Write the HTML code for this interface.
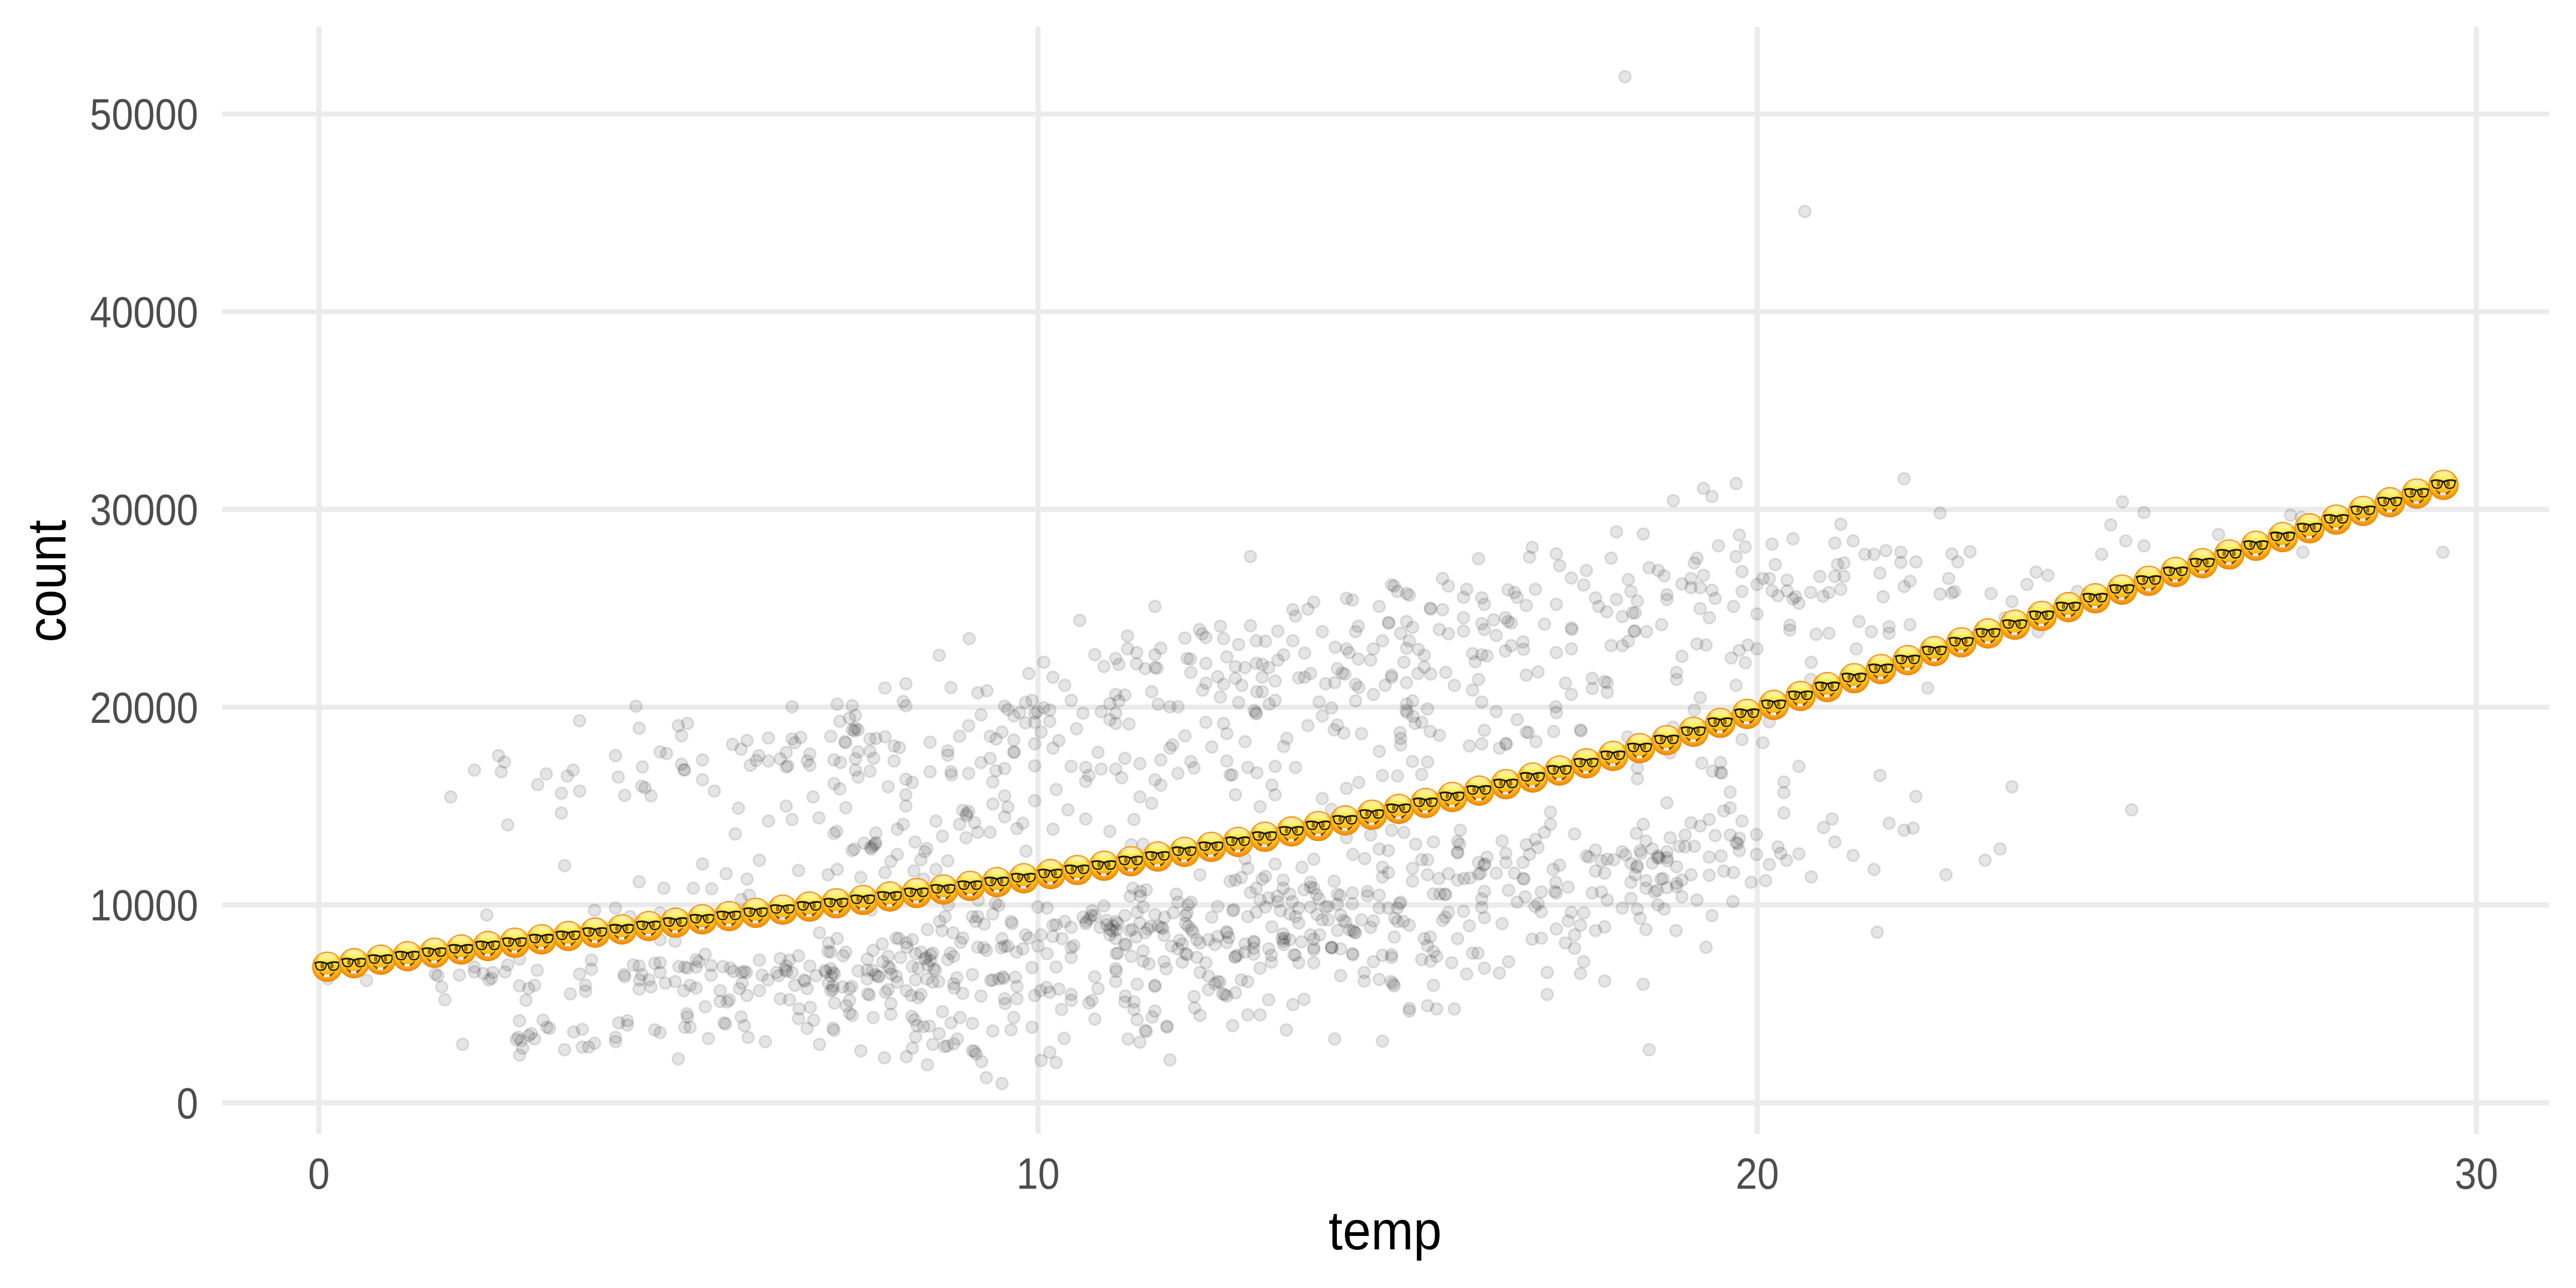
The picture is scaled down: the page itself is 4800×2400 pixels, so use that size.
<!DOCTYPE html>
<html><head><meta charset="utf-8"><title>count vs temp</title>
<style>
html,body{margin:0;padding:0;background:#fff;}
body{width:4800px;height:2400px;overflow:hidden;}
svg{display:block;}
text{font-family:"Liberation Sans",sans-serif;}
</style></head><body>
<svg width="4800" height="2400" viewBox="0 0 4800 2400">
<defs>
<linearGradient id="fg" x1="0" y1="0" x2="0" y2="1">
<stop offset="0" stop-color="#fff07a"/><stop offset="0.2" stop-color="#fff060"/><stop offset="0.4" stop-color="#ffe438"/><stop offset="0.6" stop-color="#ffcb20"/><stop offset="0.82" stop-color="#fbaa18"/><stop offset="1" stop-color="#f4900e"/>
</linearGradient>
<radialGradient id="fr" cx="0.5" cy="0.5" r="0.5">
<stop offset="0" stop-color="#ee8a00" stop-opacity="0"/><stop offset="0.7" stop-color="#ee8a00" stop-opacity="0"/><stop offset="0.9" stop-color="#f08c05" stop-opacity="0.5"/><stop offset="1" stop-color="#e47c00" stop-opacity="1"/>
</radialGradient>
<linearGradient id="hl" x1="0" y1="0" x2="0" y2="1">
<stop offset="0" stop-color="#fffbe0" stop-opacity="0.75"/><stop offset="1" stop-color="#fff9b0" stop-opacity="0"/>
</linearGradient>
<linearGradient id="tg" x1="0" y1="0" x2="0" y2="1">
<stop offset="0" stop-color="#ffffff"/><stop offset="0.55" stop-color="#f2f2f2"/><stop offset="1" stop-color="#bdbdbd"/>
</linearGradient>
<symbol id="e" viewBox="0 0 100 100" overflow="visible">
<circle cx="50" cy="50" r="50" fill="url(#fg)"/>
<circle cx="50" cy="50" r="50" fill="url(#fr)"/>
<ellipse cx="50" cy="19" rx="31" ry="14" fill="url(#hl)"/>
<ellipse cx="33.4" cy="46.6" rx="4.7" ry="8.3" fill="#b36c00" stroke="#8c4e00" stroke-width="1.8"/>
<ellipse cx="65.2" cy="46.600" rx="4.7" ry="8.3" fill="#b36c00" stroke="#8c4e00" stroke-width="1.8"/>
<g fill="none" stroke="#17171f" stroke-linecap="round" stroke-linejoin="round">
<path d="M11.2 38.6 C11.8 46.6,13.5 53.6,17 57.6 C21 62.1,34 63.1,39.5 58.6 C44 54.6,46 46.6,47.2 41.1" stroke-width="4.4"/>
<path d="M88.4 38.6 C87.8 46.6,86.1 53.6,82.6 57.6 C78.6 62.1,65.6 63.1,60.1 58.6 C55.6 54.6,53.6 46.6,52.4 41.1" stroke-width="4.4"/>
<path d="M9.8 37.6 C20 33.6,34 33.2,49.8 39.9 C65.6 33.2,79.6 33.6,89.8 37.6" stroke-width="5.8"/>
</g>
<path d="M25.2 67 C32 79,42 83.200,49.5 83.2 C57 83.2,67 79,73.8 67 C66 75,57 77.6,49.5 77.6 C42 77.6,33 75,25.200 67Z" fill="#7a3e00" stroke="#7a3e00" stroke-width="1.8" stroke-linejoin="round"/>
<path d="M39.2 75.8 L57.8 75.8 L57.8 81.5 C57.8 86.8,50.6 87,48.5 83.8 C46.4 87,39.2 86.8,39.2 81.5Z" fill="url(#tg)"/>
<path d="M48.5 76.5 L48.5 84" stroke="#c4c4c4" stroke-width="0.9" fill="none"/>
</symbol>
</defs>
<rect width="4800" height="2400" fill="#ffffff"/>
<g stroke="#ebebeb" stroke-width="9.4" fill="none">
<path d="M414 2054.7H4750"/><path d="M414 1686.3H4750"/><path d="M414 1317.8H4750"/><path d="M414 949.3H4750"/><path d="M414 580.9H4750"/><path d="M414 212.4H4750"/><path d="M594.2 50V2113"/><path d="M1934.3 50V2113"/><path d="M3274.4 50V2113"/><path d="M4614.5 50V2113"/>
</g>
<g fill="#000" fill-opacity="0.1" stroke="#000" stroke-opacity="0.1" stroke-width="3.3">
<circle cx="611" cy="1824" r="11"/><circle cx="683" cy="1827" r="11"/><circle cx="907" cy="1705" r="11"/><circle cx="1108" cy="1696" r="11"/><circle cx="1147" cy="1692" r="11"/><circle cx="1174" cy="1708" r="11"/><circle cx="1230" cy="1701" r="11"/><circle cx="1237" cy="1655" r="11"/>
<circle cx="1292" cy="1655" r="11"/><circle cx="1326" cy="1656" r="11"/><circle cx="1381" cy="1676" r="11"/><circle cx="1396" cy="1668" r="11"/><circle cx="1230" cy="1751" r="11"/><circle cx="1258" cy="1754" r="11"/><circle cx="1314" cy="1778" r="11"/><circle cx="1297" cy="1788" r="11"/>
<circle cx="1302" cy="1792" r="11"/><circle cx="1102" cy="1789" r="11"/><circle cx="1102" cy="1806" r="11"/><circle cx="968" cy="1787" r="11"/><circle cx="946" cy="1798" r="11"/><circle cx="941" cy="1811" r="11"/><circle cx="884" cy="1802" r="11"/><circle cx="884" cy="1811" r="11"/>
<circle cx="901" cy="1814" r="11"/><circle cx="918" cy="1812" r="11"/><circle cx="911" cy="1826" r="11"/><circle cx="916" cy="1823" r="11"/><circle cx="811" cy="1815" r="11"/><circle cx="816" cy="1818" r="11"/><circle cx="856" cy="1817" r="11"/><circle cx="823" cy="1839" r="11"/>
<circle cx="829" cy="1863" r="11"/><circle cx="1001" cy="1808" r="11"/><circle cx="1080" cy="1815" r="11"/><circle cx="968" cy="1837" r="11"/><circle cx="985" cy="1842" r="11"/><circle cx="996" cy="1836" r="11"/><circle cx="980" cy="1864" r="11"/><circle cx="1091" cy="1836" r="11"/>
<circle cx="1091" cy="1847" r="11"/><circle cx="1063" cy="1852" r="11"/><circle cx="1180" cy="1798" r="11"/><circle cx="1191" cy="1800" r="11"/><circle cx="1220" cy="1795" r="11"/><circle cx="1230" cy="1794" r="11"/><circle cx="1163" cy="1816" r="11"/><circle cx="1164" cy="1820" r="11"/>
<circle cx="1192" cy="1826" r="11"/><circle cx="1196" cy="1816" r="11"/><circle cx="1209" cy="1826" r="11"/><circle cx="1230" cy="1812" r="11"/><circle cx="1240" cy="1832" r="11"/><circle cx="1258" cy="1829" r="11"/><circle cx="1191" cy="1843" r="11"/><circle cx="1213" cy="1839" r="11"/>
<circle cx="1265" cy="1801" r="11"/><circle cx="1276" cy="1802" r="11"/><circle cx="1281" cy="1804" r="11"/><circle cx="1297" cy="1802" r="11"/><circle cx="1325" cy="1799" r="11"/><circle cx="1325" cy="1817" r="11"/><circle cx="1347" cy="1801" r="11"/><circle cx="1361" cy="1804" r="11"/>
<circle cx="1367" cy="1810" r="11"/><circle cx="1382" cy="1812" r="11"/><circle cx="1387" cy="1810" r="11"/><circle cx="1391" cy="1812" r="11"/><circle cx="1286" cy="1836" r="11"/><circle cx="1297" cy="1841" r="11"/><circle cx="1274" cy="1846" r="11"/><circle cx="1342" cy="1846" r="11"/>
<circle cx="1378" cy="1842" r="11"/><circle cx="1383" cy="1832" r="11"/><circle cx="1392" cy="1855" r="11"/><circle cx="1342" cy="1866" r="11"/><circle cx="1355" cy="1867" r="11"/><circle cx="1359" cy="1863" r="11"/><circle cx="1314" cy="1876" r="11"/><circle cx="1280" cy="1889" r="11"/>
<circle cx="1281" cy="1895" r="11"/><circle cx="1276" cy="1914" r="11"/><circle cx="1286" cy="1914" r="11"/><circle cx="1349" cy="1906" r="11"/><circle cx="1352" cy="1908" r="11"/><circle cx="1381" cy="1895" r="11"/><circle cx="1387" cy="1911" r="11"/><circle cx="1394" cy="1933" r="11"/>
<circle cx="1320" cy="1935" r="11"/><circle cx="1220" cy="1919" r="11"/><circle cx="1230" cy="1924" r="11"/><circle cx="1153" cy="1906" r="11"/><circle cx="1169" cy="1902" r="11"/><circle cx="1169" cy="1910" r="11"/><circle cx="1147" cy="1933" r="11"/><circle cx="1147" cy="1941" r="11"/>
<circle cx="1085" cy="1918" r="11"/><circle cx="1069" cy="1923" r="11"/><circle cx="1012" cy="1901" r="11"/><circle cx="1019" cy="1914" r="11"/><circle cx="1024" cy="1916" r="11"/><circle cx="968" cy="1902" r="11"/><circle cx="990" cy="1926" r="11"/><circle cx="985" cy="1930" r="11"/>
<circle cx="996" cy="1936" r="11"/><circle cx="966" cy="1933" r="11"/><circle cx="962" cy="1937" r="11"/><circle cx="971" cy="1939" r="11"/><circle cx="974" cy="1953" r="11"/><circle cx="968" cy="1966" r="11"/><circle cx="1052" cy="1956" r="11"/><circle cx="1085" cy="1951" r="11"/>
<circle cx="1097" cy="1951" r="11"/><circle cx="1108" cy="1944" r="11"/><circle cx="862" cy="1946" r="11"/><circle cx="1264" cy="1973" r="11"/><circle cx="1415" cy="1789" r="11"/><circle cx="1454" cy="1786" r="11"/><circle cx="1471" cy="1789" r="11"/><circle cx="1465" cy="1800" r="11"/>
<circle cx="1463" cy="1807" r="11"/><circle cx="1466" cy="1810" r="11"/><circle cx="1476" cy="1812" r="11"/><circle cx="1447" cy="1812" r="11"/><circle cx="1451" cy="1818" r="11"/><circle cx="1420" cy="1817" r="11"/><circle cx="1431" cy="1826" r="11"/><circle cx="1415" cy="1846" r="11"/>
<circle cx="1454" cy="1861" r="11"/><circle cx="1471" cy="1863" r="11"/><circle cx="1426" cy="1941" r="11"/><circle cx="1488" cy="1781" r="11"/><circle cx="1509" cy="1800" r="11"/><circle cx="1527" cy="1738" r="11"/><circle cx="1544" cy="1757" r="11"/><circle cx="1560" cy="1749" r="11"/>
<circle cx="1543" cy="1773" r="11"/><circle cx="1548" cy="1774" r="11"/><circle cx="1498" cy="1826" r="11"/><circle cx="1500" cy="1828" r="11"/><circle cx="1481" cy="1836" r="11"/><circle cx="1504" cy="1842" r="11"/><circle cx="1521" cy="1818" r="11"/><circle cx="1537" cy="1808" r="11"/>
<circle cx="1539" cy="1811" r="11"/><circle cx="1548" cy="1805" r="11"/><circle cx="1552" cy="1812" r="11"/><circle cx="1555" cy="1815" r="11"/><circle cx="1549" cy="1819" r="11"/><circle cx="1544" cy="1832" r="11"/><circle cx="1552" cy="1838" r="11"/><circle cx="1548" cy="1846" r="11"/>
<circle cx="1552" cy="1844" r="11"/><circle cx="1555" cy="1869" r="11"/><circle cx="1489" cy="1880" r="11"/><circle cx="1510" cy="1877" r="11"/><circle cx="1488" cy="1898" r="11"/><circle cx="1516" cy="1901" r="11"/><circle cx="1504" cy="1916" r="11"/><circle cx="1552" cy="1916" r="11"/>
<circle cx="1554" cy="1920" r="11"/><circle cx="1527" cy="1946" r="11"/><circle cx="1576" cy="1774" r="11"/><circle cx="1571" cy="1781" r="11"/><circle cx="1570" cy="1839" r="11"/><circle cx="1583" cy="1842" r="11"/><circle cx="1587" cy="1838" r="11"/><circle cx="1583" cy="1864" r="11"/>
<circle cx="1577" cy="1874" r="11"/><circle cx="1583" cy="1888" r="11"/><circle cx="1588" cy="1892" r="11"/><circle cx="1599" cy="1809" r="11"/><circle cx="1616" cy="1787" r="11"/><circle cx="1627" cy="1771" r="11"/><circle cx="1616" cy="1808" r="11"/><circle cx="1626" cy="1808" r="11"/>
<circle cx="1616" cy="1824" r="11"/><circle cx="1631" cy="1816" r="11"/><circle cx="1636" cy="1819" r="11"/><circle cx="1617" cy="1852" r="11"/><circle cx="1620" cy="1854" r="11"/><circle cx="1627" cy="1896" r="11"/><circle cx="1604" cy="1958" r="11"/><circle cx="1623" cy="1696" r="11"/>
<circle cx="1644" cy="1759" r="11"/><circle cx="1655" cy="1782" r="11"/><circle cx="1645" cy="1792" r="11"/><circle cx="1655" cy="1801" r="11"/><circle cx="1659" cy="1805" r="11"/><circle cx="1661" cy="1815" r="11"/><circle cx="1670" cy="1819" r="11"/><circle cx="1672" cy="1830" r="11"/>
<circle cx="1638" cy="1820" r="11"/><circle cx="1655" cy="1844" r="11"/><circle cx="1650" cy="1849" r="11"/><circle cx="1660" cy="1870" r="11"/><circle cx="1660" cy="1890" r="11"/><circle cx="1670" cy="1748" r="11"/><circle cx="1675" cy="1749" r="11"/><circle cx="1689" cy="1757" r="11"/>
<circle cx="1700" cy="1751" r="11"/><circle cx="1690" cy="1765" r="11"/><circle cx="1678" cy="1784" r="11"/><circle cx="1700" cy="1801" r="11"/><circle cx="1706" cy="1777" r="11"/><circle cx="1706" cy="1826" r="11"/><circle cx="1689" cy="1846" r="11"/><circle cx="1698" cy="1855" r="11"/>
<circle cx="1711" cy="1804" r="11"/><circle cx="1648" cy="1971" r="11"/><circle cx="1689" cy="1969" r="11"/><circle cx="1700" cy="1953" r="11"/><circle cx="1706" cy="1932" r="11"/><circle cx="1699" cy="1894" r="11"/><circle cx="1704" cy="1900" r="11"/><circle cx="1709" cy="1911" r="11"/>
<circle cx="1716" cy="1774" r="11"/><circle cx="1723" cy="1787" r="11"/><circle cx="1726" cy="1784" r="11"/><circle cx="1734" cy="1779" r="11"/><circle cx="1738" cy="1776" r="11"/><circle cx="1734" cy="1790" r="11"/><circle cx="1729" cy="1799" r="11"/><circle cx="1740" cy="1805" r="11"/>
<circle cx="1743" cy="1808" r="11"/><circle cx="1727" cy="1824" r="11"/><circle cx="1738" cy="1830" r="11"/><circle cx="1749" cy="1829" r="11"/><circle cx="1716" cy="1853" r="11"/><circle cx="1711" cy="1859" r="11"/><circle cx="1728" cy="1732" r="11"/><circle cx="1751" cy="1717" r="11"/>
<circle cx="1761" cy="1708" r="11"/><circle cx="1755" cy="1734" r="11"/><circle cx="1776" cy="1738" r="11"/><circle cx="1766" cy="1788" r="11"/><circle cx="1771" cy="1776" r="11"/><circle cx="1777" cy="1782" r="11"/><circle cx="1783" cy="1822" r="11"/><circle cx="1777" cy="1833" r="11"/>
<circle cx="1778" cy="1841" r="11"/><circle cx="1767" cy="1686" r="11"/><circle cx="1756" cy="1885" r="11"/><circle cx="1772" cy="1906" r="11"/><circle cx="1750" cy="1926" r="11"/><circle cx="1721" cy="1913" r="11"/><circle cx="1732" cy="1912" r="11"/><circle cx="1738" cy="1946" r="11"/>
<circle cx="1760" cy="1950" r="11"/><circle cx="1765" cy="1949" r="11"/><circle cx="1777" cy="1945" r="11"/><circle cx="1784" cy="1936" r="11"/><circle cx="1728" cy="1984" r="11"/><circle cx="1794" cy="1748" r="11"/><circle cx="1790" cy="1756" r="11"/><circle cx="1812" cy="1708" r="11"/>
<circle cx="1818" cy="1717" r="11"/><circle cx="1822" cy="1708" r="11"/><circle cx="1834" cy="1722" r="11"/><circle cx="1850" cy="1703" r="11"/><circle cx="1855" cy="1683" r="11"/><circle cx="1861" cy="1687" r="11"/><circle cx="1823" cy="1677" r="11"/><circle cx="1822" cy="1765" r="11"/>
<circle cx="1833" cy="1766" r="11"/><circle cx="1838" cy="1771" r="11"/><circle cx="1812" cy="1816" r="11"/><circle cx="1794" cy="1851" r="11"/><circle cx="1828" cy="1856" r="11"/><circle cx="1789" cy="1896" r="11"/><circle cx="1812" cy="1907" r="11"/><circle cx="1846" cy="1827" r="11"/>
<circle cx="1850" cy="1826" r="11"/><circle cx="1850" cy="1921" r="11"/><circle cx="1812" cy="1958" r="11"/><circle cx="1816" cy="1959" r="11"/><circle cx="1819" cy="1964" r="11"/><circle cx="1829" cy="1978" r="11"/><circle cx="1838" cy="2008" r="11"/><circle cx="1867" cy="1749" r="11"/>
<circle cx="1866" cy="1766" r="11"/><circle cx="1872" cy="1763" r="11"/><circle cx="1861" cy="1824" r="11"/><circle cx="1869" cy="1820" r="11"/><circle cx="1870" cy="1823" r="11"/><circle cx="1878" cy="1763" r="11"/><circle cx="1884" cy="1717" r="11"/><circle cx="1886" cy="1721" r="11"/>
<circle cx="1892" cy="1821" r="11"/><circle cx="1895" cy="1838" r="11"/><circle cx="1895" cy="1861" r="11"/><circle cx="1872" cy="1861" r="11"/><circle cx="1873" cy="1870" r="11"/><circle cx="1889" cy="1896" r="11"/><circle cx="1884" cy="1919" r="11"/><circle cx="1867" cy="2019" r="11"/>
<circle cx="1894" cy="1774" r="11"/><circle cx="1906" cy="1768" r="11"/><circle cx="1911" cy="1742" r="11"/><circle cx="1917" cy="1748" r="11"/><circle cx="1934" cy="1690" r="11"/><circle cx="1940" cy="1742" r="11"/><circle cx="1934" cy="1763" r="11"/><circle cx="1923" cy="1803" r="11"/>
<circle cx="1928" cy="1855" r="11"/><circle cx="1939" cy="1846" r="11"/><circle cx="1923" cy="1914" r="11"/><circle cx="1940" cy="1976" r="11"/><circle cx="1951" cy="1692" r="11"/><circle cx="1951" cy="1777" r="11"/><circle cx="1950" cy="1840" r="11"/><circle cx="1956" cy="1849" r="11"/>
<circle cx="1956" cy="1961" r="11"/><circle cx="1968" cy="1980" r="11"/><circle cx="1962" cy="1724" r="11"/><circle cx="1968" cy="1723" r="11"/><circle cx="1962" cy="1745" r="11"/><circle cx="1979" cy="1749" r="11"/><circle cx="1984" cy="1717" r="11"/><circle cx="1996" cy="1728" r="11"/>
<circle cx="1996" cy="1766" r="11"/><circle cx="2001" cy="1762" r="11"/><circle cx="1996" cy="1784" r="11"/><circle cx="1968" cy="1802" r="11"/><circle cx="1973" cy="1843" r="11"/><circle cx="1996" cy="1853" r="11"/><circle cx="1996" cy="1864" r="11"/><circle cx="1978" cy="1881" r="11"/>
<circle cx="1983" cy="1935" r="11"/><circle cx="2018" cy="1709" r="11"/><circle cx="2024" cy="1717" r="11"/><circle cx="2030" cy="1712" r="11"/><circle cx="2034" cy="1706" r="11"/><circle cx="2035" cy="1697" r="11"/><circle cx="2040" cy="1706" r="11"/><circle cx="2023" cy="1721" r="11"/>
<circle cx="2057" cy="1688" r="11"/><circle cx="2050" cy="1728" r="11"/><circle cx="2062" cy="1715" r="11"/><circle cx="2062" cy="1723" r="11"/><circle cx="2068" cy="1731" r="11"/><circle cx="2073" cy="1735" r="11"/><circle cx="2080" cy="1733" r="11"/><circle cx="2074" cy="1725" r="11"/>
<circle cx="2080" cy="1717" r="11"/><circle cx="2083" cy="1721" r="11"/><circle cx="2068" cy="1742" r="11"/><circle cx="2079" cy="1749" r="11"/><circle cx="2096" cy="1759" r="11"/><circle cx="2098" cy="1761" r="11"/><circle cx="2096" cy="1706" r="11"/><circle cx="2040" cy="1820" r="11"/>
<circle cx="2046" cy="1842" r="11"/><circle cx="2035" cy="1864" r="11"/><circle cx="2029" cy="1869" r="11"/><circle cx="2040" cy="1899" r="11"/><circle cx="2083" cy="1776" r="11"/><circle cx="2080" cy="1777" r="11"/><circle cx="2079" cy="1805" r="11"/><circle cx="2080" cy="1810" r="11"/>
<circle cx="2079" cy="1829" r="11"/><circle cx="2097" cy="1856" r="11"/><circle cx="2096" cy="1867" r="11"/><circle cx="2106" cy="1670" r="11"/><circle cx="2111" cy="1655" r="11"/><circle cx="2125" cy="1661" r="11"/><circle cx="2136" cy="1658" r="11"/><circle cx="2125" cy="1670" r="11"/>
<circle cx="2130" cy="1690" r="11"/><circle cx="2119" cy="1700" r="11"/><circle cx="2124" cy="1720" r="11"/><circle cx="2105" cy="1734" r="11"/><circle cx="2110" cy="1732" r="11"/><circle cx="2117" cy="1746" r="11"/><circle cx="2139" cy="1731" r="11"/><circle cx="2144" cy="1726" r="11"/>
<circle cx="2134" cy="1738" r="11"/><circle cx="2152" cy="1704" r="11"/><circle cx="2158" cy="1726" r="11"/><circle cx="2164" cy="1728" r="11"/><circle cx="2167" cy="1730" r="11"/><circle cx="2170" cy="1709" r="11"/><circle cx="2169" cy="1743" r="11"/><circle cx="2186" cy="1701" r="11"/>
<circle cx="2192" cy="1666" r="11"/><circle cx="2195" cy="1681" r="11"/><circle cx="2183" cy="1763" r="11"/><circle cx="2195" cy="1768" r="11"/><circle cx="2198" cy="1752" r="11"/><circle cx="2130" cy="1772" r="11"/><circle cx="2108" cy="1782" r="11"/><circle cx="2130" cy="1791" r="11"/>
<circle cx="2141" cy="1796" r="11"/><circle cx="2169" cy="1792" r="11"/><circle cx="2173" cy="1805" r="11"/><circle cx="2119" cy="1834" r="11"/><circle cx="2152" cy="1836" r="11"/><circle cx="2152" cy="1838" r="11"/><circle cx="2113" cy="1867" r="11"/><circle cx="2113" cy="1881" r="11"/>
<circle cx="2119" cy="1900" r="11"/><circle cx="2152" cy="1884" r="11"/><circle cx="2147" cy="1895" r="11"/><circle cx="2134" cy="1920" r="11"/><circle cx="2136" cy="1922" r="11"/><circle cx="2174" cy="1912" r="11"/><circle cx="2175" cy="1914" r="11"/><circle cx="2102" cy="1936" r="11"/>
<circle cx="2124" cy="1942" r="11"/><circle cx="2180" cy="1975" r="11"/><circle cx="2219" cy="1681" r="11"/><circle cx="2214" cy="1686" r="11"/><circle cx="2212" cy="1701" r="11"/><circle cx="2209" cy="1706" r="11"/><circle cx="2209" cy="1721" r="11"/><circle cx="2214" cy="1726" r="11"/>
<circle cx="2220" cy="1732" r="11"/><circle cx="2223" cy="1737" r="11"/><circle cx="2203" cy="1759" r="11"/><circle cx="2230" cy="1751" r="11"/><circle cx="2236" cy="1757" r="11"/><circle cx="2209" cy="1777" r="11"/><circle cx="2212" cy="1779" r="11"/><circle cx="2203" cy="1793" r="11"/>
<circle cx="2230" cy="1784" r="11"/><circle cx="2247" cy="1794" r="11"/><circle cx="2252" cy="1751" r="11"/><circle cx="2264" cy="1760" r="11"/><circle cx="2269" cy="1745" r="11"/><circle cx="2269" cy="1689" r="11"/><circle cx="2258" cy="1709" r="11"/><circle cx="2236" cy="1812" r="11"/>
<circle cx="2252" cy="1819" r="11"/><circle cx="2269" cy="1829" r="11"/><circle cx="2273" cy="1830" r="11"/><circle cx="2264" cy="1833" r="11"/><circle cx="2252" cy="1844" r="11"/><circle cx="2225" cy="1857" r="11"/><circle cx="2226" cy="1878" r="11"/><circle cx="2236" cy="1892" r="11"/>
<circle cx="2285" cy="1736" r="11"/><circle cx="2287" cy="1738" r="11"/><circle cx="2290" cy="1747" r="11"/><circle cx="2286" cy="1756" r="11"/><circle cx="2297" cy="1697" r="11"/><circle cx="2299" cy="1695" r="11"/><circle cx="2325" cy="1708" r="11"/><circle cx="2330" cy="1663" r="11"/>
<circle cx="2341" cy="1655" r="11"/><circle cx="2341" cy="1700" r="11"/><circle cx="2348" cy="1677" r="11"/><circle cx="2320" cy="1759" r="11"/><circle cx="2336" cy="1754" r="11"/><circle cx="2337" cy="1756" r="11"/><circle cx="2336" cy="1767" r="11"/><circle cx="2336" cy="1778" r="11"/>
<circle cx="2320" cy="1774" r="11"/><circle cx="2302" cy="1782" r="11"/><circle cx="2306" cy="1780" r="11"/><circle cx="2301" cy="1784" r="11"/><circle cx="2313" cy="1826" r="11"/><circle cx="2325" cy="1829" r="11"/><circle cx="2348" cy="1804" r="11"/><circle cx="2302" cy="1850" r="11"/>
<circle cx="2282" cy="1853" r="11"/><circle cx="2286" cy="1856" r="11"/><circle cx="2278" cy="1852" r="11"/><circle cx="2325" cy="1891" r="11"/><circle cx="2348" cy="1891" r="11"/><circle cx="2297" cy="1911" r="11"/><circle cx="2358" cy="1690" r="11"/><circle cx="2364" cy="1673" r="11"/>
<circle cx="2370" cy="1727" r="11"/><circle cx="2364" cy="1768" r="11"/><circle cx="2369" cy="1780" r="11"/><circle cx="2369" cy="1793" r="11"/><circle cx="2380" cy="1670" r="11"/><circle cx="2381" cy="1680" r="11"/><circle cx="2386" cy="1697" r="11"/><circle cx="2391" cy="1655" r="11"/>
<circle cx="2403" cy="1666" r="11"/><circle cx="2408" cy="1680" r="11"/><circle cx="2403" cy="1703" r="11"/><circle cx="2414" cy="1708" r="11"/><circle cx="2420" cy="1692" r="11"/><circle cx="2420" cy="1720" r="11"/><circle cx="2391" cy="1740" r="11"/><circle cx="2389" cy="1749" r="11"/>
<circle cx="2394" cy="1748" r="11"/><circle cx="2391" cy="1754" r="11"/><circle cx="2392" cy="1760" r="11"/><circle cx="2403" cy="1751" r="11"/><circle cx="2425" cy="1755" r="11"/><circle cx="2411" cy="1779" r="11"/><circle cx="2414" cy="1780" r="11"/><circle cx="2420" cy="1794" r="11"/>
<circle cx="2364" cy="1863" r="11"/><circle cx="2409" cy="1872" r="11"/><circle cx="2430" cy="1862" r="11"/><circle cx="2430" cy="1658" r="11"/><circle cx="2397" cy="1919" r="11"/><circle cx="2442" cy="1690" r="11"/><circle cx="2442" cy="1653" r="11"/><circle cx="2448" cy="1655" r="11"/>
<circle cx="2453" cy="1667" r="11"/><circle cx="2458" cy="1675" r="11"/><circle cx="2454" cy="1704" r="11"/><circle cx="2464" cy="1714" r="11"/><circle cx="2475" cy="1714" r="11"/><circle cx="2470" cy="1690" r="11"/><circle cx="2475" cy="1689" r="11"/><circle cx="2442" cy="1742" r="11"/>
<circle cx="2448" cy="1750" r="11"/><circle cx="2459" cy="1742" r="11"/><circle cx="2448" cy="1766" r="11"/><circle cx="2448" cy="1770" r="11"/><circle cx="2448" cy="1794" r="11"/><circle cx="2481" cy="1765" r="11"/><circle cx="2482" cy="1766" r="11"/><circle cx="2481" cy="1766" r="11"/>
<circle cx="2498" cy="1768" r="11"/><circle cx="2492" cy="1734" r="11"/><circle cx="2492" cy="1685" r="11"/><circle cx="2492" cy="1666" r="11"/><circle cx="2497" cy="1669" r="11"/><circle cx="2498" cy="1705" r="11"/><circle cx="2503" cy="1715" r="11"/><circle cx="2508" cy="1718" r="11"/>
<circle cx="2498" cy="1818" r="11"/><circle cx="2487" cy="1936" r="11"/><circle cx="2520" cy="1664" r="11"/><circle cx="2520" cy="1684" r="11"/><circle cx="2515" cy="1733" r="11"/><circle cx="2521" cy="1734" r="11"/><circle cx="2524" cy="1737" r="11"/><circle cx="2526" cy="1738" r="11"/>
<circle cx="2520" cy="1777" r="11"/><circle cx="2521" cy="1779" r="11"/><circle cx="2537" cy="1714" r="11"/><circle cx="2548" cy="1661" r="11"/><circle cx="2548" cy="1669" r="11"/><circle cx="2559" cy="1716" r="11"/><circle cx="2554" cy="1728" r="11"/><circle cx="2570" cy="1668" r="11"/>
<circle cx="2570" cy="1692" r="11"/><circle cx="2587" cy="1692" r="11"/><circle cx="2559" cy="1792" r="11"/><circle cx="2576" cy="1780" r="11"/><circle cx="2542" cy="1812" r="11"/><circle cx="2542" cy="1828" r="11"/><circle cx="2570" cy="1825" r="11"/><circle cx="2576" cy="1940" r="11"/>
<circle cx="2593" cy="1779" r="11"/><circle cx="2593" cy="1784" r="11"/><circle cx="2598" cy="1746" r="11"/><circle cx="2599" cy="1711" r="11"/><circle cx="2604" cy="1717" r="11"/><circle cx="2615" cy="1717" r="11"/><circle cx="2626" cy="1724" r="11"/><circle cx="2604" cy="1692" r="11"/>
<circle cx="2608" cy="1684" r="11"/><circle cx="2610" cy="1681" r="11"/><circle cx="2592" cy="1829" r="11"/><circle cx="2598" cy="1837" r="11"/><circle cx="2596" cy="1833" r="11"/><circle cx="2626" cy="1879" r="11"/><circle cx="2626" cy="1884" r="11"/><circle cx="2649" cy="1788" r="11"/>
<circle cx="2654" cy="1749" r="11"/><circle cx="2665" cy="1746" r="11"/><circle cx="2660" cy="1762" r="11"/><circle cx="2660" cy="1874" r="11"/><circle cx="2671" cy="1773" r="11"/><circle cx="2677" cy="1782" r="11"/><circle cx="2666" cy="1791" r="11"/><circle cx="2671" cy="1666" r="11"/>
<circle cx="2683" cy="1666" r="11"/><circle cx="2692" cy="1666" r="11"/><circle cx="2694" cy="1667" r="11"/><circle cx="2688" cy="1715" r="11"/><circle cx="2693" cy="1709" r="11"/><circle cx="2699" cy="1700" r="11"/><circle cx="2671" cy="1836" r="11"/><circle cx="2677" cy="1880" r="11"/>
<circle cx="2705" cy="1794" r="11"/><circle cx="2716" cy="1749" r="11"/><circle cx="2727" cy="1698" r="11"/><circle cx="2738" cy="1725" r="11"/><circle cx="2733" cy="1815" r="11"/><circle cx="2710" cy="1880" r="11"/><circle cx="2744" cy="1776" r="11"/><circle cx="2754" cy="1776" r="11"/>
<circle cx="2761" cy="1675" r="11"/><circle cx="2761" cy="1691" r="11"/><circle cx="2766" cy="1661" r="11"/><circle cx="2766" cy="1710" r="11"/><circle cx="2766" cy="1804" r="11"/><circle cx="2799" cy="1721" r="11"/><circle cx="2794" cy="1813" r="11"/><circle cx="2811" cy="1792" r="11"/>
<circle cx="2811" cy="1659" r="11"/><circle cx="2827" cy="1681" r="11"/><circle cx="2842" cy="1671" r="11"/><circle cx="2855" cy="1750" r="11"/><circle cx="2860" cy="1689" r="11"/><circle cx="2866" cy="1684" r="11"/><circle cx="2872" cy="1699" r="11"/><circle cx="2872" cy="1662" r="11"/>
<circle cx="2872" cy="1748" r="11"/><circle cx="2883" cy="1812" r="11"/><circle cx="2883" cy="1853" r="11"/><circle cx="2897" cy="1661" r="11"/><circle cx="2900" cy="1664" r="11"/><circle cx="2900" cy="1731" r="11"/><circle cx="2917" cy="1757" r="11"/><circle cx="2922" cy="1653" r="11"/>
<circle cx="2922" cy="1716" r="11"/><circle cx="2928" cy="1700" r="11"/><circle cx="2934" cy="1742" r="11"/><circle cx="2934" cy="1767" r="11"/><circle cx="2945" cy="1724" r="11"/><circle cx="2951" cy="1701" r="11"/><circle cx="2951" cy="1792" r="11"/><circle cx="2945" cy="1814" r="11"/>
<circle cx="2967" cy="1664" r="11"/><circle cx="2973" cy="1734" r="11"/><circle cx="2984" cy="1662" r="11"/><circle cx="2990" cy="1727" r="11"/><circle cx="2995" cy="1677" r="11"/><circle cx="2990" cy="1828" r="11"/><circle cx="3039" cy="1674" r="11"/><circle cx="3023" cy="1692" r="11"/>
<circle cx="3051" cy="1694" r="11"/><circle cx="3056" cy="1711" r="11"/><circle cx="3067" cy="1732" r="11"/><circle cx="3089" cy="1686" r="11"/><circle cx="3101" cy="1694" r="11"/><circle cx="3083" cy="1662" r="11"/><circle cx="3088" cy="1659" r="11"/><circle cx="3067" cy="1655" r="11"/>
<circle cx="3106" cy="1654" r="11"/><circle cx="3124" cy="1652" r="11"/><circle cx="3134" cy="1671" r="11"/><circle cx="3162" cy="1677" r="11"/><circle cx="3229" cy="1680" r="11"/><circle cx="3190" cy="1706" r="11"/><circle cx="3123" cy="1734" r="11"/><circle cx="3179" cy="1765" r="11"/>
<circle cx="3062" cy="1834" r="11"/><circle cx="3073" cy="1956" r="11"/><circle cx="3498" cy="1737" r="11"/><circle cx="840" cy="1485" r="11"/><circle cx="884" cy="1435" r="11"/><circle cx="929" cy="1408" r="11"/><circle cx="940" cy="1420" r="11"/><circle cx="934" cy="1438" r="11"/>
<circle cx="946" cy="1537" r="11"/><circle cx="1002" cy="1462" r="11"/><circle cx="1018" cy="1442" r="11"/><circle cx="1057" cy="1446" r="11"/><circle cx="1068" cy="1435" r="11"/><circle cx="1046" cy="1478" r="11"/><circle cx="1080" cy="1474" r="11"/><circle cx="1046" cy="1515" r="11"/>
<circle cx="1052" cy="1613" r="11"/><circle cx="1080" cy="1343" r="11"/><circle cx="1147" cy="1408" r="11"/><circle cx="1152" cy="1448" r="11"/><circle cx="1164" cy="1482" r="11"/><circle cx="1185" cy="1316" r="11"/><circle cx="1191" cy="1357" r="11"/><circle cx="1197" cy="1429" r="11"/>
<circle cx="1196" cy="1465" r="11"/><circle cx="1202" cy="1468" r="11"/><circle cx="1213" cy="1483" r="11"/><circle cx="1230" cy="1401" r="11"/><circle cx="1242" cy="1404" r="11"/><circle cx="1264" cy="1352" r="11"/><circle cx="1281" cy="1348" r="11"/><circle cx="1270" cy="1371" r="11"/>
<circle cx="1270" cy="1424" r="11"/><circle cx="1274" cy="1434" r="11"/><circle cx="1276" cy="1435" r="11"/><circle cx="1309" cy="1416" r="11"/><circle cx="1309" cy="1453" r="11"/><circle cx="1331" cy="1474" r="11"/><circle cx="1365" cy="1387" r="11"/><circle cx="1381" cy="1396" r="11"/>
<circle cx="1392" cy="1380" r="11"/><circle cx="1398" cy="1426" r="11"/><circle cx="1376" cy="1506" r="11"/><circle cx="1370" cy="1554" r="11"/><circle cx="1309" cy="1610" r="11"/><circle cx="1353" cy="1628" r="11"/><circle cx="1392" cy="1638" r="11"/><circle cx="1191" cy="1643" r="11"/>
<circle cx="1414" cy="1408" r="11"/><circle cx="1409" cy="1417" r="11"/><circle cx="1432" cy="1375" r="11"/><circle cx="1432" cy="1418" r="11"/><circle cx="1454" cy="1414" r="11"/><circle cx="1465" cy="1402" r="11"/><circle cx="1476" cy="1377" r="11"/><circle cx="1481" cy="1384" r="11"/>
<circle cx="1492" cy="1374" r="11"/><circle cx="1476" cy="1317" r="11"/><circle cx="1468" cy="1427" r="11"/><circle cx="1465" cy="1429" r="11"/><circle cx="1465" cy="1502" r="11"/><circle cx="1432" cy="1530" r="11"/><circle cx="1476" cy="1527" r="11"/><circle cx="1415" cy="1603" r="11"/>
<circle cx="1488" cy="1622" r="11"/><circle cx="1509" cy="1405" r="11"/><circle cx="1504" cy="1418" r="11"/><circle cx="1509" cy="1426" r="11"/><circle cx="1515" cy="1485" r="11"/><circle cx="1526" cy="1524" r="11"/><circle cx="1548" cy="1372" r="11"/><circle cx="1554" cy="1416" r="11"/>
<circle cx="1554" cy="1460" r="11"/><circle cx="1554" cy="1553" r="11"/><circle cx="1559" cy="1549" r="11"/><circle cx="1543" cy="1630" r="11"/><circle cx="1560" cy="1312" r="11"/><circle cx="1565" cy="1344" r="11"/><circle cx="1566" cy="1421" r="11"/><circle cx="1565" cy="1470" r="11"/>
<circle cx="1560" cy="1620" r="11"/><circle cx="1574" cy="1382" r="11"/><circle cx="1576" cy="1384" r="11"/><circle cx="1576" cy="1505" r="11"/><circle cx="1588" cy="1315" r="11"/><circle cx="1594" cy="1333" r="11"/><circle cx="1583" cy="1338" r="11"/><circle cx="1588" cy="1360" r="11"/>
<circle cx="1594" cy="1357" r="11"/><circle cx="1599" cy="1360" r="11"/><circle cx="1592" cy="1362" r="11"/><circle cx="1599" cy="1401" r="11"/><circle cx="1594" cy="1414" r="11"/><circle cx="1594" cy="1435" r="11"/><circle cx="1599" cy="1448" r="11"/><circle cx="1588" cy="1585" r="11"/>
<circle cx="1592" cy="1582" r="11"/><circle cx="1604" cy="1635" r="11"/><circle cx="1610" cy="1571" r="11"/><circle cx="1621" cy="1377" r="11"/><circle cx="1621" cy="1400" r="11"/><circle cx="1628" cy="1413" r="11"/><circle cx="1621" cy="1437" r="11"/><circle cx="1632" cy="1376" r="11"/>
<circle cx="1622" cy="1579" r="11"/><circle cx="1627" cy="1576" r="11"/><circle cx="1631" cy="1573" r="11"/><circle cx="1624" cy="1582" r="11"/><circle cx="1632" cy="1552" r="11"/><circle cx="1632" cy="1570" r="11"/><circle cx="1649" cy="1282" r="11"/><circle cx="1649" cy="1373" r="11"/>
<circle cx="1655" cy="1466" r="11"/><circle cx="1666" cy="1390" r="11"/><circle cx="1676" cy="1393" r="11"/><circle cx="1666" cy="1418" r="11"/><circle cx="1672" cy="1545" r="11"/><circle cx="1683" cy="1536" r="11"/><circle cx="1672" cy="1592" r="11"/><circle cx="1660" cy="1605" r="11"/>
<circle cx="1649" cy="1626" r="11"/><circle cx="1683" cy="1307" r="11"/><circle cx="1688" cy="1315" r="11"/><circle cx="1688" cy="1274" r="11"/><circle cx="1688" cy="1452" r="11"/><circle cx="1700" cy="1458" r="11"/><circle cx="1688" cy="1481" r="11"/><circle cx="1688" cy="1502" r="11"/>
<circle cx="1705" cy="1569" r="11"/><circle cx="1703" cy="1623" r="11"/><circle cx="1733" cy="1383" r="11"/><circle cx="1733" cy="1438" r="11"/><circle cx="1744" cy="1530" r="11"/><circle cx="1756" cy="1558" r="11"/><circle cx="1727" cy="1581" r="11"/><circle cx="1723" cy="1587" r="11"/>
<circle cx="1716" cy="1602" r="11"/><circle cx="1744" cy="1620" r="11"/><circle cx="1766" cy="1604" r="11"/><circle cx="1766" cy="1399" r="11"/><circle cx="1766" cy="1407" r="11"/><circle cx="1772" cy="1438" r="11"/><circle cx="1773" cy="1444" r="11"/><circle cx="1772" cy="1281" r="11"/>
<circle cx="1788" cy="1372" r="11"/><circle cx="1788" cy="1536" r="11"/><circle cx="1721" cy="1638" r="11"/><circle cx="1805" cy="1352" r="11"/><circle cx="1805" cy="1441" r="11"/><circle cx="1794" cy="1510" r="11"/><circle cx="1801" cy="1516" r="11"/><circle cx="1805" cy="1512" r="11"/>
<circle cx="1801" cy="1520" r="11"/><circle cx="1816" cy="1533" r="11"/><circle cx="1800" cy="1561" r="11"/><circle cx="1822" cy="1551" r="11"/><circle cx="1822" cy="1291" r="11"/><circle cx="1839" cy="1287" r="11"/><circle cx="1828" cy="1332" r="11"/><circle cx="1828" cy="1421" r="11"/>
<circle cx="1845" cy="1413" r="11"/><circle cx="1845" cy="1372" r="11"/><circle cx="1856" cy="1377" r="11"/><circle cx="1856" cy="1436" r="11"/><circle cx="1850" cy="1457" r="11"/><circle cx="1850" cy="1498" r="11"/><circle cx="1845" cy="1551" r="11"/><circle cx="1867" cy="1364" r="11"/>
<circle cx="1872" cy="1432" r="11"/><circle cx="1872" cy="1483" r="11"/><circle cx="1878" cy="1504" r="11"/><circle cx="1872" cy="1522" r="11"/><circle cx="1872" cy="1316" r="11"/><circle cx="1878" cy="1322" r="11"/><circle cx="1889" cy="1334" r="11"/><circle cx="1889" cy="1379" r="11"/>
<circle cx="1889" cy="1401" r="11"/><circle cx="1890" cy="1402" r="11"/><circle cx="1900" cy="1328" r="11"/><circle cx="1895" cy="1544" r="11"/><circle cx="1906" cy="1534" r="11"/><circle cx="1912" cy="1586" r="11"/><circle cx="1911" cy="1347" r="11"/><circle cx="1911" cy="1309" r="11"/>
<circle cx="1923" cy="1305" r="11"/><circle cx="1917" cy="1255" r="11"/><circle cx="1928" cy="1329" r="11"/><circle cx="1933" cy="1326" r="11"/><circle cx="1928" cy="1346" r="11"/><circle cx="1928" cy="1386" r="11"/><circle cx="1928" cy="1427" r="11"/><circle cx="1928" cy="1492" r="11"/>
<circle cx="1940" cy="1364" r="11"/><circle cx="1945" cy="1319" r="11"/><circle cx="1956" cy="1323" r="11"/><circle cx="1956" cy="1344" r="11"/><circle cx="1962" cy="1262" r="11"/><circle cx="1962" cy="1394" r="11"/><circle cx="1973" cy="1380" r="11"/><circle cx="1968" cy="1471" r="11"/>
<circle cx="1962" cy="1545" r="11"/><circle cx="1984" cy="1277" r="11"/><circle cx="1996" cy="1305" r="11"/><circle cx="1996" cy="1428" r="11"/><circle cx="1990" cy="1509" r="11"/><circle cx="2006" cy="1358" r="11"/><circle cx="2018" cy="1329" r="11"/><circle cx="2023" cy="1430" r="11"/>
<circle cx="2029" cy="1445" r="11"/><circle cx="2023" cy="1456" r="11"/><circle cx="2023" cy="1526" r="11"/><circle cx="2046" cy="1402" r="11"/><circle cx="2052" cy="1433" r="11"/><circle cx="2052" cy="1326" r="11"/><circle cx="2068" cy="1311" r="11"/><circle cx="2068" cy="1341" r="11"/>
<circle cx="2079" cy="1294" r="11"/><circle cx="2085" cy="1306" r="11"/><circle cx="2079" cy="1329" r="11"/><circle cx="2079" cy="1348" r="11"/><circle cx="2079" cy="1433" r="11"/><circle cx="2096" cy="1295" r="11"/><circle cx="2096" cy="1413" r="11"/><circle cx="2090" cy="1449" r="11"/>
<circle cx="2068" cy="1549" r="11"/><circle cx="2104" cy="1349" r="11"/><circle cx="2113" cy="1527" r="11"/><circle cx="2124" cy="1423" r="11"/><circle cx="2124" cy="1485" r="11"/><circle cx="2108" cy="1574" r="11"/><circle cx="2130" cy="1573" r="11"/><circle cx="2146" cy="1289" r="11"/>
<circle cx="2146" cy="1497" r="11"/><circle cx="2152" cy="1453" r="11"/><circle cx="2158" cy="1312" r="11"/><circle cx="2163" cy="1416" r="11"/><circle cx="2163" cy="1463" r="11"/><circle cx="2180" cy="1317" r="11"/><circle cx="2180" cy="1394" r="11"/><circle cx="2185" cy="1388" r="11"/>
<circle cx="2195" cy="1317" r="11"/><circle cx="2195" cy="1441" r="11"/><circle cx="2219" cy="1253" r="11"/><circle cx="2247" cy="1273" r="11"/><circle cx="2241" cy="1286" r="11"/><circle cx="2269" cy="1261" r="11"/><circle cx="2280" cy="1275" r="11"/><circle cx="2274" cy="1299" r="11"/>
<circle cx="2247" cy="1346" r="11"/><circle cx="2280" cy="1348" r="11"/><circle cx="2208" cy="1371" r="11"/><circle cx="2258" cy="1392" r="11"/><circle cx="2219" cy="1419" r="11"/><circle cx="2225" cy="1431" r="11"/><circle cx="2286" cy="1367" r="11"/><circle cx="2286" cy="1418" r="11"/>
<circle cx="2292" cy="1444" r="11"/><circle cx="2296" cy="1444" r="11"/><circle cx="2302" cy="1481" r="11"/><circle cx="2302" cy="1264" r="11"/><circle cx="2314" cy="1277" r="11"/><circle cx="2308" cy="1309" r="11"/><circle cx="2320" cy="1382" r="11"/><circle cx="2325" cy="1430" r="11"/>
<circle cx="2342" cy="1440" r="11"/><circle cx="2348" cy="1503" r="11"/><circle cx="2337" cy="1324" r="11"/><circle cx="2340" cy="1328" r="11"/><circle cx="2341" cy="1330" r="11"/><circle cx="2342" cy="1289" r="11"/><circle cx="2352" cy="1289" r="11"/><circle cx="2352" cy="1262" r="11"/>
<circle cx="2320" cy="1600" r="11"/><circle cx="2365" cy="1312" r="11"/><circle cx="2376" cy="1269" r="11"/><circle cx="2376" cy="1305" r="11"/><circle cx="2376" cy="1428" r="11"/><circle cx="2370" cy="1463" r="11"/><circle cx="2376" cy="1481" r="11"/><circle cx="2392" cy="1391" r="11"/>
<circle cx="2398" cy="1376" r="11"/><circle cx="2414" cy="1430" r="11"/><circle cx="2420" cy="1263" r="11"/><circle cx="2431" cy="1262" r="11"/><circle cx="2442" cy="1255" r="11"/><circle cx="2437" cy="1352" r="11"/><circle cx="2458" cy="1308" r="11"/><circle cx="2464" cy="1334" r="11"/>
<circle cx="2470" cy="1274" r="11"/><circle cx="2481" cy="1319" r="11"/><circle cx="2487" cy="1272" r="11"/><circle cx="2492" cy="1351" r="11"/><circle cx="2486" cy="1360" r="11"/><circle cx="2504" cy="1366" r="11"/><circle cx="2464" cy="1488" r="11"/><circle cx="2481" cy="1508" r="11"/>
<circle cx="2509" cy="1469" r="11"/><circle cx="2501" cy="1254" r="11"/><circle cx="2506" cy="1256" r="11"/><circle cx="2509" cy="1561" r="11"/><circle cx="2526" cy="1275" r="11"/><circle cx="2532" cy="1281" r="11"/><circle cx="2526" cy="1306" r="11"/><circle cx="2537" cy="1367" r="11"/>
<circle cx="2532" cy="1458" r="11"/><circle cx="2559" cy="1294" r="11"/><circle cx="2570" cy="1400" r="11"/><circle cx="2576" cy="1445" r="11"/><circle cx="2581" cy="1277" r="11"/><circle cx="2554" cy="1556" r="11"/><circle cx="2570" cy="1582" r="11"/><circle cx="2587" cy="1585" r="11"/>
<circle cx="2521" cy="1592" r="11"/><circle cx="2543" cy="1600" r="11"/><circle cx="2593" cy="1262" r="11"/><circle cx="2593" cy="1258" r="11"/><circle cx="2604" cy="1446" r="11"/><circle cx="2609" cy="1365" r="11"/><circle cx="2610" cy="1376" r="11"/><circle cx="2610" cy="1388" r="11"/>
<circle cx="2621" cy="1272" r="11"/><circle cx="2621" cy="1312" r="11"/><circle cx="2620" cy="1324" r="11"/><circle cx="2622" cy="1328" r="11"/><circle cx="2632" cy="1306" r="11"/><circle cx="2633" cy="1335" r="11"/><circle cx="2637" cy="1348" r="11"/><circle cx="2649" cy="1346" r="11"/>
<circle cx="2632" cy="1419" r="11"/><circle cx="2649" cy="1443" r="11"/><circle cx="2660" cy="1321" r="11"/><circle cx="2660" cy="1420" r="11"/><circle cx="2665" cy="1363" r="11"/><circle cx="2593" cy="1547" r="11"/><circle cx="2616" cy="1551" r="11"/><circle cx="2638" cy="1573" r="11"/>
<circle cx="2649" cy="1602" r="11"/><circle cx="2660" cy="1602" r="11"/><circle cx="2642" cy="1255" r="11"/><circle cx="2666" cy="1256" r="11"/><circle cx="2682" cy="1370" r="11"/><circle cx="2671" cy="1569" r="11"/><circle cx="2694" cy="1253" r="11"/><circle cx="2710" cy="1277" r="11"/>
<circle cx="2738" cy="1390" r="11"/><circle cx="2744" cy="1286" r="11"/><circle cx="2721" cy="1547" r="11"/><circle cx="2716" cy="1568" r="11"/><circle cx="2720" cy="1573" r="11"/><circle cx="2716" cy="1588" r="11"/><circle cx="2716" cy="1589" r="11"/><circle cx="2699" cy="1628" r="11"/>
<circle cx="2755" cy="1266" r="11"/><circle cx="2761" cy="1308" r="11"/><circle cx="2761" cy="1386" r="11"/><circle cx="2766" cy="1361" r="11"/><circle cx="2788" cy="1326" r="11"/><circle cx="2794" cy="1394" r="11"/><circle cx="2806" cy="1385" r="11"/><circle cx="2807" cy="1387" r="11"/>
<circle cx="2799" cy="1567" r="11"/><circle cx="2806" cy="1590" r="11"/><circle cx="2806" cy="1607" r="11"/><circle cx="2771" cy="1597" r="11"/><circle cx="2755" cy="1607" r="11"/><circle cx="2765" cy="1612" r="11"/><circle cx="2767" cy="1610" r="11"/><circle cx="2755" cy="1629" r="11"/>
<circle cx="2759" cy="1627" r="11"/><circle cx="2788" cy="1627" r="11"/><circle cx="2827" cy="1341" r="11"/><circle cx="2844" cy="1364" r="11"/><circle cx="2848" cy="1365" r="11"/><circle cx="2862" cy="1382" r="11"/><circle cx="2844" cy="1258" r="11"/><circle cx="2866" cy="1252" r="11"/>
<circle cx="2895" cy="1363" r="11"/><circle cx="2899" cy="1317" r="11"/><circle cx="2900" cy="1328" r="11"/><circle cx="2889" cy="1513" r="11"/><circle cx="2889" cy="1536" r="11"/><circle cx="2878" cy="1551" r="11"/><circle cx="2861" cy="1564" r="11"/><circle cx="2844" cy="1574" r="11"/>
<circle cx="2866" cy="1579" r="11"/><circle cx="2850" cy="1592" r="11"/><circle cx="2838" cy="1607" r="11"/><circle cx="2822" cy="1627" r="11"/><circle cx="2838" cy="1637" r="11"/><circle cx="2840" cy="1638" r="11"/><circle cx="2917" cy="1273" r="11"/><circle cx="2928" cy="1294" r="11"/>
<circle cx="2945" cy="1360" r="11"/><circle cx="2946" cy="1362" r="11"/><circle cx="2967" cy="1264" r="11"/><circle cx="2967" cy="1283" r="11"/><circle cx="2990" cy="1270" r="11"/><circle cx="2995" cy="1272" r="11"/><circle cx="2995" cy="1290" r="11"/><circle cx="2934" cy="1554" r="11"/>
<circle cx="2973" cy="1584" r="11"/><circle cx="2956" cy="1595" r="11"/><circle cx="2961" cy="1597" r="11"/><circle cx="2984" cy="1604" r="11"/><circle cx="2906" cy="1612" r="11"/><circle cx="2894" cy="1620" r="11"/><circle cx="2973" cy="1623" r="11"/><circle cx="2990" cy="1627" r="11"/>
<circle cx="2899" cy="1644" r="11"/><circle cx="2995" cy="1601" r="11"/><circle cx="2236" cy="1630" r="11"/><circle cx="2325" cy="1618" r="11"/><circle cx="2376" cy="1610" r="11"/><circle cx="2426" cy="1616" r="11"/><circle cx="2448" cy="1601" r="11"/><circle cx="2292" cy="1642" r="11"/>
<circle cx="2302" cy="1640" r="11"/><circle cx="2313" cy="1635" r="11"/><circle cx="2352" cy="1638" r="11"/><circle cx="2358" cy="1633" r="11"/><circle cx="2391" cy="1640" r="11"/><circle cx="2442" cy="1644" r="11"/><circle cx="2486" cy="1642" r="11"/><circle cx="2576" cy="1616" r="11"/>
<circle cx="2587" cy="1626" r="11"/><circle cx="2576" cy="1634" r="11"/><circle cx="2632" cy="1618" r="11"/><circle cx="2632" cy="1642" r="11"/><circle cx="2660" cy="1630" r="11"/><circle cx="2681" cy="1637" r="11"/><circle cx="2716" cy="1640" r="11"/><circle cx="2728" cy="1637" r="11"/>
<circle cx="2739" cy="1636" r="11"/><circle cx="3007" cy="1602" r="11"/><circle cx="3124" cy="1266" r="11"/><circle cx="3124" cy="1253" r="11"/><circle cx="3168" cy="1300" r="11"/><circle cx="3157" cy="1323" r="11"/><circle cx="3235" cy="1277" r="11"/><circle cx="3374" cy="1266" r="11"/>
<circle cx="3592" cy="1282" r="11"/><circle cx="3033" cy="1373" r="11"/><circle cx="3117" cy="1355" r="11"/><circle cx="3297" cy="1345" r="11"/><circle cx="3246" cy="1378" r="11"/><circle cx="3285" cy="1384" r="11"/><circle cx="3112" cy="1403" r="11"/><circle cx="3051" cy="1431" r="11"/>
<circle cx="3051" cy="1451" r="11"/><circle cx="3171" cy="1422" r="11"/><circle cx="3206" cy="1421" r="11"/><circle cx="3191" cy="1437" r="11"/><circle cx="3206" cy="1439" r="11"/><circle cx="3208" cy="1441" r="11"/><circle cx="3224" cy="1476" r="11"/><circle cx="3106" cy="1496" r="11"/>
<circle cx="3224" cy="1505" r="11"/><circle cx="3212" cy="1511" r="11"/><circle cx="3246" cy="1530" r="11"/><circle cx="3185" cy="1527" r="11"/><circle cx="3151" cy="1533" r="11"/><circle cx="3168" cy="1539" r="11"/><circle cx="3062" cy="1536" r="11"/><circle cx="3049" cy="1553" r="11"/>
<circle cx="3140" cy="1556" r="11"/><circle cx="3196" cy="1557" r="11"/><circle cx="3224" cy="1556" r="11"/><circle cx="3241" cy="1562" r="11"/><circle cx="3235" cy="1570" r="11"/><circle cx="3238" cy="1572" r="11"/><circle cx="3241" cy="1585" r="11"/><circle cx="3112" cy="1561" r="11"/>
<circle cx="3067" cy="1567" r="11"/><circle cx="3129" cy="1577" r="11"/><circle cx="3140" cy="1578" r="11"/><circle cx="3157" cy="1577" r="11"/><circle cx="3185" cy="1597" r="11"/><circle cx="3207" cy="1595" r="11"/><circle cx="3273" cy="1555" r="11"/><circle cx="3273" cy="1592" r="11"/>
<circle cx="3023" cy="1587" r="11"/><circle cx="3029" cy="1593" r="11"/><circle cx="3056" cy="1585" r="11"/><circle cx="3058" cy="1590" r="11"/><circle cx="3079" cy="1582" r="11"/><circle cx="3106" cy="1587" r="11"/><circle cx="3090" cy="1595" r="11"/><circle cx="3092" cy="1599" r="11"/>
<circle cx="3088" cy="1598" r="11"/><circle cx="3106" cy="1598" r="11"/><circle cx="3107" cy="1604" r="11"/><circle cx="3079" cy="1608" r="11"/><circle cx="3124" cy="1615" r="11"/><circle cx="3039" cy="1609" r="11"/><circle cx="3051" cy="1613" r="11"/><circle cx="3050" cy="1616" r="11"/>
<circle cx="3047" cy="1630" r="11"/><circle cx="3151" cy="1630" r="11"/><circle cx="3185" cy="1631" r="11"/><circle cx="3212" cy="1623" r="11"/><circle cx="3230" cy="1626" r="11"/><circle cx="3067" cy="1641" r="11"/><circle cx="3095" cy="1638" r="11"/><circle cx="3099" cy="1637" r="11"/>
<circle cx="3039" cy="1644" r="11"/><circle cx="3134" cy="1640" r="11"/><circle cx="3124" cy="1646" r="11"/><circle cx="3263" cy="1644" r="11"/><circle cx="3290" cy="1641" r="11"/><circle cx="3297" cy="1611" r="11"/><circle cx="3313" cy="1578" r="11"/><circle cx="3318" cy="1590" r="11"/>
<circle cx="3329" cy="1603" r="11"/><circle cx="3352" cy="1591" r="11"/><circle cx="3375" cy="1634" r="11"/><circle cx="3352" cy="1428" r="11"/><circle cx="3324" cy="1457" r="11"/><circle cx="3324" cy="1477" r="11"/><circle cx="3324" cy="1515" r="11"/><circle cx="3398" cy="1542" r="11"/>
<circle cx="3414" cy="1526" r="11"/><circle cx="3419" cy="1569" r="11"/><circle cx="3453" cy="1594" r="11"/><circle cx="3492" cy="1620" r="11"/><circle cx="3503" cy="1445" r="11"/><circle cx="3520" cy="1534" r="11"/><circle cx="3548" cy="1547" r="11"/><circle cx="3565" cy="1543" r="11"/>
<circle cx="3570" cy="1484" r="11"/><circle cx="3626" cy="1630" r="11"/><circle cx="3699" cy="1603" r="11"/><circle cx="3727" cy="1582" r="11"/><circle cx="3749" cy="1466" r="11"/><circle cx="3972" cy="1509" r="11"/><circle cx="1750" cy="1221" r="11"/><circle cx="1806" cy="1190" r="11"/>
<circle cx="1945" cy="1234" r="11"/><circle cx="2012" cy="1156" r="11"/><circle cx="2040" cy="1220" r="11"/><circle cx="2057" cy="1242" r="11"/><circle cx="2079" cy="1227" r="11"/><circle cx="2085" cy="1238" r="11"/><circle cx="2101" cy="1185" r="11"/><circle cx="2101" cy="1209" r="11"/>
<circle cx="2118" cy="1216" r="11"/><circle cx="2118" cy="1237" r="11"/><circle cx="2152" cy="1130" r="11"/><circle cx="2152" cy="1220" r="11"/><circle cx="2163" cy="1208" r="11"/><circle cx="2134" cy="1246" r="11"/><circle cx="2152" cy="1244" r="11"/><circle cx="2156" cy="1245" r="11"/>
<circle cx="2208" cy="1189" r="11"/><circle cx="2235" cy="1173" r="11"/><circle cx="2240" cy="1181" r="11"/><circle cx="2247" cy="1188" r="11"/><circle cx="2274" cy="1167" r="11"/><circle cx="2280" cy="1190" r="11"/><circle cx="2308" cy="1201" r="11"/><circle cx="2330" cy="1037" r="11"/>
<circle cx="2330" cy="1166" r="11"/><circle cx="2341" cy="1194" r="11"/><circle cx="2358" cy="1195" r="11"/><circle cx="2381" cy="1176" r="11"/><circle cx="2409" cy="1194" r="11"/><circle cx="2409" cy="1136" r="11"/><circle cx="2414" cy="1148" r="11"/><circle cx="2437" cy="1135" r="11"/>
<circle cx="2448" cy="1122" r="11"/><circle cx="2464" cy="1177" r="11"/><circle cx="2212" cy="1227" r="11"/><circle cx="2218" cy="1228" r="11"/><circle cx="2247" cy="1236" r="11"/><circle cx="2286" cy="1224" r="11"/><circle cx="2302" cy="1242" r="11"/><circle cx="2320" cy="1244" r="11"/>
<circle cx="2341" cy="1236" r="11"/><circle cx="2352" cy="1238" r="11"/><circle cx="2364" cy="1244" r="11"/><circle cx="2381" cy="1230" r="11"/><circle cx="2392" cy="1220" r="11"/><circle cx="2431" cy="1217" r="11"/><circle cx="2488" cy="1206" r="11"/><circle cx="2509" cy="1209" r="11"/>
<circle cx="2514" cy="1216" r="11"/><circle cx="2531" cy="1228" r="11"/><circle cx="2554" cy="1230" r="11"/><circle cx="2559" cy="1209" r="11"/><circle cx="2576" cy="1194" r="11"/><circle cx="2509" cy="1115" r="11"/><circle cx="2520" cy="1118" r="11"/><circle cx="2531" cy="1167" r="11"/>
<circle cx="2526" cy="1177" r="11"/><circle cx="2570" cy="1130" r="11"/><circle cx="2587" cy="1160" r="11"/><circle cx="2588" cy="1161" r="11"/><circle cx="2593" cy="1090" r="11"/><circle cx="2598" cy="1092" r="11"/><circle cx="2604" cy="1102" r="11"/><circle cx="2621" cy="1106" r="11"/>
<circle cx="2626" cy="1109" r="11"/><circle cx="2621" cy="1158" r="11"/><circle cx="2632" cy="1169" r="11"/><circle cx="2610" cy="1180" r="11"/><circle cx="2626" cy="1194" r="11"/><circle cx="2621" cy="1208" r="11"/><circle cx="2643" cy="1210" r="11"/><circle cx="2654" cy="1221" r="11"/>
<circle cx="2616" cy="1234" r="11"/><circle cx="2665" cy="1133" r="11"/><circle cx="2666" cy="1135" r="11"/><circle cx="2688" cy="1078" r="11"/><circle cx="2699" cy="1092" r="11"/><circle cx="2688" cy="1136" r="11"/><circle cx="2682" cy="1173" r="11"/><circle cx="2699" cy="1181" r="11"/>
<circle cx="2727" cy="1113" r="11"/><circle cx="2733" cy="1098" r="11"/><circle cx="2727" cy="1151" r="11"/><circle cx="2727" cy="1176" r="11"/><circle cx="2755" cy="1041" r="11"/><circle cx="2761" cy="1114" r="11"/><circle cx="2766" cy="1126" r="11"/><circle cx="2761" cy="1162" r="11"/>
<circle cx="2766" cy="1173" r="11"/><circle cx="2783" cy="1155" r="11"/><circle cx="2788" cy="1184" r="11"/><circle cx="2744" cy="1218" r="11"/><circle cx="2749" cy="1233" r="11"/><circle cx="2761" cy="1220" r="11"/><circle cx="2771" cy="1222" r="11"/><circle cx="2805" cy="1151" r="11"/>
<circle cx="2810" cy="1158" r="11"/><circle cx="2816" cy="1161" r="11"/><circle cx="2810" cy="1099" r="11"/><circle cx="2822" cy="1104" r="11"/><circle cx="2827" cy="1113" r="11"/><circle cx="2844" cy="1128" r="11"/><circle cx="2861" cy="1098" r="11"/><circle cx="2850" cy="1038" r="11"/>
<circle cx="2855" cy="1020" r="11"/><circle cx="2805" cy="1213" r="11"/><circle cx="2816" cy="1203" r="11"/><circle cx="2838" cy="1196" r="11"/><circle cx="2839" cy="1210" r="11"/><circle cx="2878" cy="1163" r="11"/><circle cx="2900" cy="1032" r="11"/><circle cx="2906" cy="1054" r="11"/>
<circle cx="2900" cy="1126" r="11"/><circle cx="2900" cy="1216" r="11"/><circle cx="2928" cy="1077" r="11"/><circle cx="2928" cy="1170" r="11"/><circle cx="2929" cy="1173" r="11"/><circle cx="2928" cy="1209" r="11"/><circle cx="2951" cy="1090" r="11"/><circle cx="2956" cy="1063" r="11"/>
<circle cx="2973" cy="1114" r="11"/><circle cx="2979" cy="1130" r="11"/><circle cx="2994" cy="1140" r="11"/><circle cx="2492" cy="1246" r="11"/><circle cx="2654" cy="1243" r="11"/><circle cx="3002" cy="1040" r="11"/><circle cx="3002" cy="1203" r="11"/><circle cx="3012" cy="991" r="11"/>
<circle cx="3062" cy="995" r="11"/><circle cx="3012" cy="1117" r="11"/><circle cx="3034" cy="1080" r="11"/><circle cx="3039" cy="1102" r="11"/><circle cx="3051" cy="1120" r="11"/><circle cx="3042" cy="1142" r="11"/><circle cx="3047" cy="1142" r="11"/><circle cx="3023" cy="1149" r="11"/>
<circle cx="3045" cy="1176" r="11"/><circle cx="3046" cy="1176" r="11"/><circle cx="3068" cy="1177" r="11"/><circle cx="3034" cy="1195" r="11"/><circle cx="3023" cy="1203" r="11"/><circle cx="3073" cy="1058" r="11"/><circle cx="3090" cy="1063" r="11"/><circle cx="3101" cy="1073" r="11"/>
<circle cx="3106" cy="1108" r="11"/><circle cx="3106" cy="1117" r="11"/><circle cx="3096" cy="1164" r="11"/><circle cx="3118" cy="933" r="11"/><circle cx="3134" cy="1088" r="11"/><circle cx="3151" cy="1078" r="11"/><circle cx="3151" cy="1095" r="11"/><circle cx="3157" cy="1049" r="11"/>
<circle cx="3162" cy="1040" r="11"/><circle cx="3174" cy="1072" r="11"/><circle cx="3168" cy="1095" r="11"/><circle cx="3190" cy="1100" r="11"/><circle cx="3196" cy="1115" r="11"/><circle cx="3168" cy="1134" r="11"/><circle cx="3185" cy="1151" r="11"/><circle cx="3162" cy="1200" r="11"/>
<circle cx="3179" cy="1202" r="11"/><circle cx="3134" cy="1223" r="11"/><circle cx="3174" cy="910" r="11"/><circle cx="3190" cy="925" r="11"/><circle cx="3202" cy="1017" r="11"/><circle cx="3235" cy="901" r="11"/><circle cx="3241" cy="997" r="11"/><circle cx="3252" cy="1019" r="11"/>
<circle cx="3235" cy="1037" r="11"/><circle cx="3246" cy="1065" r="11"/><circle cx="3246" cy="1102" r="11"/><circle cx="3230" cy="1130" r="11"/><circle cx="3274" cy="1089" r="11"/><circle cx="3274" cy="1144" r="11"/><circle cx="3257" cy="1202" r="11"/><circle cx="3241" cy="1212" r="11"/>
<circle cx="3274" cy="1209" r="11"/><circle cx="3226" cy="1226" r="11"/><circle cx="3252" cy="1235" r="11"/><circle cx="3285" cy="1078" r="11"/><circle cx="3297" cy="1078" r="11"/><circle cx="3302" cy="1014" r="11"/><circle cx="3308" cy="1052" r="11"/><circle cx="3302" cy="1101" r="11"/>
<circle cx="3313" cy="1110" r="11"/><circle cx="3330" cy="1081" r="11"/><circle cx="3330" cy="1101" r="11"/><circle cx="3341" cy="1004" r="11"/><circle cx="3341" cy="1116" r="11"/><circle cx="3346" cy="1112" r="11"/><circle cx="3352" cy="1124" r="11"/><circle cx="3335" cy="1165" r="11"/>
<circle cx="3335" cy="1174" r="11"/><circle cx="3374" cy="1104" r="11"/><circle cx="3391" cy="1074" r="11"/><circle cx="3397" cy="1111" r="11"/><circle cx="3408" cy="1104" r="11"/><circle cx="3384" cy="1182" r="11"/><circle cx="3408" cy="1180" r="11"/><circle cx="3375" cy="1234" r="11"/>
<circle cx="3419" cy="1012" r="11"/><circle cx="3430" cy="977" r="11"/><circle cx="3424" cy="1052" r="11"/><circle cx="3436" cy="1049" r="11"/><circle cx="3419" cy="1074" r="11"/><circle cx="3436" cy="1074" r="11"/><circle cx="3430" cy="1098" r="11"/><circle cx="3453" cy="1008" r="11"/>
<circle cx="3475" cy="1033" r="11"/><circle cx="3492" cy="1033" r="11"/><circle cx="3464" cy="1158" r="11"/><circle cx="3459" cy="1209" r="11"/><circle cx="3487" cy="1177" r="11"/><circle cx="3503" cy="1068" r="11"/><circle cx="3514" cy="1026" r="11"/><circle cx="3509" cy="1112" r="11"/>
<circle cx="3520" cy="1168" r="11"/><circle cx="3520" cy="1180" r="11"/><circle cx="3542" cy="1029" r="11"/><circle cx="3542" cy="1048" r="11"/><circle cx="3548" cy="892" r="11"/><circle cx="3548" cy="1093" r="11"/><circle cx="3559" cy="1083" r="11"/><circle cx="3559" cy="1164" r="11"/>
<circle cx="3570" cy="1047" r="11"/><circle cx="3615" cy="956" r="11"/><circle cx="3615" cy="1107" r="11"/><circle cx="3631" cy="1078" r="11"/><circle cx="3637" cy="1032" r="11"/><circle cx="3648" cy="1047" r="11"/><circle cx="3637" cy="1105" r="11"/><circle cx="3642" cy="1102" r="11"/>
<circle cx="3671" cy="1028" r="11"/><circle cx="3710" cy="1106" r="11"/><circle cx="3749" cy="1121" r="11"/><circle cx="3777" cy="1089" r="11"/><circle cx="3794" cy="1066" r="11"/><circle cx="3736" cy="1151" r="11"/><circle cx="3955" cy="935" r="11"/><circle cx="3995" cy="955" r="11"/>
<circle cx="3933" cy="978" r="11"/><circle cx="3961" cy="1008" r="11"/><circle cx="3995" cy="1017" r="11"/><circle cx="3916" cy="1033" r="11"/><circle cx="3816" cy="1072" r="11"/><circle cx="3871" cy="1102" r="11"/><circle cx="4134" cy="996" r="11"/><circle cx="4268" cy="960" r="11"/>
<circle cx="4288" cy="964" r="11"/><circle cx="4291" cy="1029" r="11"/><circle cx="4552" cy="1029" r="11"/><circle cx="3798" cy="1177" r="11"/><circle cx="3028" cy="143" r="11"/><circle cx="3363" cy="394" r="11"/>
</g>
<g>
<use href="#e" x="581.6" y="1773.2" width="56.4" height="56.4"/><use href="#e" x="631.5" y="1766.6" width="56.4" height="56.4"/><use href="#e" x="681.4" y="1760.1" width="56.4" height="56.4"/><use href="#e" x="731.3" y="1753.6" width="56.4" height="56.4"/>
<use href="#e" x="781.3" y="1747.2" width="56.4" height="56.4"/><use href="#e" x="831.2" y="1741.0" width="56.4" height="56.4"/><use href="#e" x="881.1" y="1734.6" width="56.4" height="56.4"/><use href="#e" x="931.0" y="1728.4" width="56.4" height="56.4"/>
<use href="#e" x="980.9" y="1722.0" width="56.4" height="56.4"/><use href="#e" x="1030.8" y="1715.8" width="56.4" height="56.4"/><use href="#e" x="1080.7" y="1709.6" width="56.4" height="56.4"/><use href="#e" x="1130.7" y="1703.5" width="56.4" height="56.4"/>
<use href="#e" x="1180.6" y="1697.3" width="56.4" height="56.4"/><use href="#e" x="1230.5" y="1691.0" width="56.4" height="56.4"/><use href="#e" x="1280.4" y="1684.8" width="56.4" height="56.4"/><use href="#e" x="1330.3" y="1678.8" width="56.4" height="56.4"/>
<use href="#e" x="1380.2" y="1672.7" width="56.4" height="56.4"/><use href="#e" x="1430.2" y="1666.8" width="56.4" height="56.4"/><use href="#e" x="1480.1" y="1661.0" width="56.4" height="56.4"/><use href="#e" x="1530.0" y="1654.9" width="56.4" height="56.4"/>
<use href="#e" x="1579.9" y="1648.7" width="56.4" height="56.4"/><use href="#e" x="1629.8" y="1642.3" width="56.4" height="56.4"/><use href="#e" x="1679.7" y="1635.7" width="56.4" height="56.4"/><use href="#e" x="1729.6" y="1629.2" width="56.4" height="56.4"/>
<use href="#e" x="1779.6" y="1622.4" width="56.4" height="56.4"/><use href="#e" x="1829.5" y="1615.5" width="56.4" height="56.4"/><use href="#e" x="1879.4" y="1608.3" width="56.4" height="56.4"/><use href="#e" x="1929.3" y="1600.6" width="56.4" height="56.4"/>
<use href="#e" x="1979.2" y="1592.9" width="56.4" height="56.4"/><use href="#e" x="2029.1" y="1584.9" width="56.4" height="56.4"/><use href="#e" x="2079.1" y="1576.4" width="56.4" height="56.4"/><use href="#e" x="2129.0" y="1567.8" width="56.4" height="56.4"/>
<use href="#e" x="2178.9" y="1559.0" width="56.4" height="56.4"/><use href="#e" x="2228.8" y="1549.8" width="56.4" height="56.4"/><use href="#e" x="2278.7" y="1540.5" width="56.4" height="56.4"/><use href="#e" x="2328.6" y="1530.9" width="56.4" height="56.4"/>
<use href="#e" x="2378.5" y="1521.1" width="56.4" height="56.4"/><use href="#e" x="2428.5" y="1510.9" width="56.4" height="56.4"/><use href="#e" x="2478.4" y="1500.6" width="56.4" height="56.4"/><use href="#e" x="2528.3" y="1489.9" width="56.4" height="56.4"/>
<use href="#e" x="2578.2" y="1479.1" width="56.4" height="56.4"/><use href="#e" x="2628.1" y="1468.0" width="56.4" height="56.4"/><use href="#e" x="2678.0" y="1456.8" width="56.4" height="56.4"/><use href="#e" x="2727.9" y="1445.0" width="56.4" height="56.4"/>
<use href="#e" x="2777.9" y="1432.9" width="56.4" height="56.4"/><use href="#e" x="2827.8" y="1420.5" width="56.4" height="56.4"/><use href="#e" x="2877.7" y="1407.5" width="56.4" height="56.4"/><use href="#e" x="2927.6" y="1394.1" width="56.4" height="56.4"/>
<use href="#e" x="2977.5" y="1380.3" width="56.4" height="56.4"/><use href="#e" x="3027.4" y="1365.8" width="56.4" height="56.4"/><use href="#e" x="3077.4" y="1350.9" width="56.4" height="56.4"/><use href="#e" x="3127.3" y="1335.3" width="56.4" height="56.4"/>
<use href="#e" x="3177.2" y="1318.7" width="56.4" height="56.4"/><use href="#e" x="3227.1" y="1302.0" width="56.4" height="56.4"/><use href="#e" x="3277.0" y="1285.3" width="56.4" height="56.4"/><use href="#e" x="3326.9" y="1268.6" width="56.4" height="56.4"/>
<use href="#e" x="3376.8" y="1252.0" width="56.4" height="56.4"/><use href="#e" x="3426.8" y="1235.4" width="56.4" height="56.4"/><use href="#e" x="3476.7" y="1218.4" width="56.4" height="56.4"/><use href="#e" x="3526.6" y="1201.8" width="56.4" height="56.4"/>
<use href="#e" x="3576.5" y="1185.1" width="56.4" height="56.4"/><use href="#e" x="3626.4" y="1168.7" width="56.4" height="56.4"/><use href="#e" x="3676.3" y="1152.1" width="56.4" height="56.4"/><use href="#e" x="3726.2" y="1135.8" width="56.4" height="56.4"/>
<use href="#e" x="3776.2" y="1119.4" width="56.4" height="56.4"/><use href="#e" x="3826.1" y="1103.1" width="56.4" height="56.4"/><use href="#e" x="3876.0" y="1086.6" width="56.4" height="56.4"/><use href="#e" x="3925.9" y="1070.4" width="56.4" height="56.4"/>
<use href="#e" x="3975.8" y="1053.9" width="56.4" height="56.4"/><use href="#e" x="4025.7" y="1037.5" width="56.4" height="56.4"/><use href="#e" x="4075.6" y="1021.3" width="56.4" height="56.4"/><use href="#e" x="4125.6" y="1004.9" width="56.4" height="56.4"/>
<use href="#e" x="4175.5" y="988.7" width="56.4" height="56.4"/><use href="#e" x="4225.4" y="972.5" width="56.4" height="56.4"/><use href="#e" x="4275.3" y="956.1" width="56.4" height="56.4"/><use href="#e" x="4325.2" y="939.9" width="56.4" height="56.4"/>
<use href="#e" x="4375.1" y="923.8" width="56.4" height="56.4"/><use href="#e" x="4425.1" y="907.6" width="56.4" height="56.4"/><use href="#e" x="4475.0" y="891.4" width="56.4" height="56.4"/><use href="#e" x="4524.9" y="875.2" width="56.4" height="56.4"/>
</g>
<g fill="#4d4d4d" font-size="81.5">
<text transform="translate(369.5 2083.7) scale(0.891 1)" text-anchor="end">0</text>
<text transform="translate(369.5 1715.3) scale(0.891 1)" text-anchor="end">10000</text>
<text transform="translate(369.5 1346.8) scale(0.891 1)" text-anchor="end">20000</text>
<text transform="translate(369.5 978.3) scale(0.891 1)" text-anchor="end">30000</text>
<text transform="translate(369.5 609.9) scale(0.891 1)" text-anchor="end">40000</text>
<text transform="translate(369.5 241.4) scale(0.891 1)" text-anchor="end">50000</text>
<text transform="translate(594.2 2214.6) scale(0.891 1)" text-anchor="middle">0</text>
<text transform="translate(1934.3 2214.6) scale(0.891 1)" text-anchor="middle">10</text>
<text transform="translate(3274.4 2214.6) scale(0.891 1)" text-anchor="middle">20</text>
<text transform="translate(4614.5 2214.6) scale(0.891 1)" text-anchor="middle">30</text>
</g>
<g fill="#000" font-size="102">
<text transform="translate(2581 2327.8) scale(0.93 1)" text-anchor="middle">temp</text>
<text transform="translate(122 1083) rotate(-90) scale(0.914 1)" text-anchor="middle">count</text>
</g>
</svg>
</body></html>
